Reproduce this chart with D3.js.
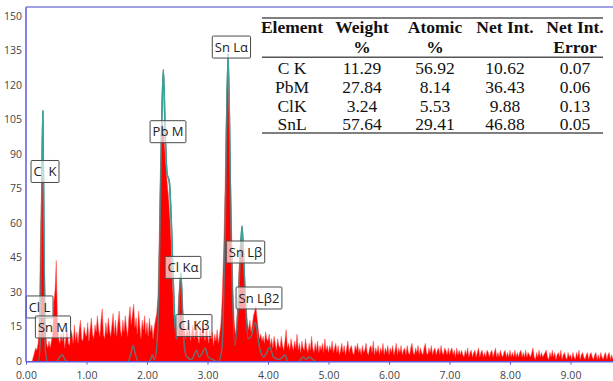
<!DOCTYPE html>
<html><head><meta charset="utf-8">
<script src="https://cdn.jsdelivr.net/npm/d3@7"></script>
<style>
html,body{margin:0;padding:0;background:#fff;}
svg{display:block;}
</style></head>
<body>
<svg id="chart" width="613" height="381"></svg>
<script>
// ---- data ----
const channelStart = 0, channelStep = 0.02; // keV
const counts = [
0,0,0,0,0,0,2,4,6,5,
8,20,55,78,80,45,15,8,6,9,
6,9,12,26,31,44,18,10,8,12,
9,13,6,11,15,8,7,14,12,8,
16,9,13,8,14,18,10,9,15,12,
11,17,9,14,19,12,10,16,13,20,
14,11,18,23,12,10,17,12,19,14,
11,16,21,12,18,11,17,22,14,11,
18,13,20,15,11,19,24,16,21,25,
15,19,12,22,16,10,18,14,20,12,
17,11,19,13,16,10,15,18,21,28,
50,82,100,104,98,90,82,76,70,62,
50,36,22,15,12,16,26,34,36,30,
20,14,10,15,11,17,9,13,16,10,
14,18,11,8,15,10,17,12,9,16,
12,8,14,10,13,7,12,9,14,8,
12,16,26,42,62,88,116,125,104,80,
55,32,18,12,15,25,40,50,54,50,
42,33,24,17,14,18,13,16,20,22,
24,19,14,10,12,9,11,8,13,10,
9,12,7,10,6,11,8,5,10,7,
6,11,7,5,9,14,6,8,5,10,
7,5,9,6,12,5,8,4,9,6,
5,10,6,4,8,5,11,6,4,8,
5,9,4,7,5,8,4,10,5,7,
4,7,5,9,4,6,8,4,7,3,
5,8,4,7,3,6,9,4,6,7,
4,3,7,5,8,4,6,3,7,4,
5,8,4,3,6,7,4,9,3,6,
4,7,3,6,4,8,3,6,4,7,
3,6,4,7,3,5,8,3,6,4,
7,3,5,6,3,7,4,3,6,8,
4,3,6,4,7,3,6,4,3,6,
8,4,3,6,4,7,3,5,6,3,
5,6,3,7,4,3,6,5,3,6,
3,5,6,3,5,2,6,3,5,3,
5,3,2,5,3,6,2,4,5,2,
4,5,2,4,6,2,4,5,2,4,
2,5,4,2,4,5,2,4,6,2,
4,2,5,3,2,4,5,2,4,2,
5,2,4,2,5,2,4,2,4,5,
2,4,2,5,2,4,3,2,4,6,
2,1,4,2,5,2,4,2,3,4,
5,2,1,4,2,5,2,4,1,3,
4,2,5,1,3,4,2,1,4,2,
3,1,4,2,1,4,2,5,1,3,
4,2,1,3,4,1,3,4,2,1,
3,4,1,3,1,4,2,1,3,4,
1,3,4,1,3,1,4,2,1,3
];
const fitEnergy = [0,0.2,0.235,0.255,0.277,0.30,0.32,0.36,0.50,0.56,0.60,0.64,0.70,1.68,1.73,1.77,1.81,1.86,2.04,2.09,2.12,2.16,2.20,2.24,2.27,2.30,2.33,2.37,2.40,2.44,2.48,2.51,2.535,2.56,2.585,2.62,2.66,2.74,2.78,2.82,2.86,2.90,2.96,3.01,3.08,3.18,3.24,3.29,3.34,3.39,3.45,3.51,3.57,3.62,3.67,3.72,3.79,3.86,3.93,3.98,4.03,4.09,4.18,4.24,4.28,4.33,4.50,4.58,4.63,4.68,4.74,4.80,9.8];
const fitCounts = [0,0,8,55,109,45,5,0,0,2,3,1,0,0,3,7,3,0,0,3,1,6,35,100,127,100,82,78,62,30,10,12,28,38.5,22,6,2,1,3,5,2,3,6,2,1,0,6,55,134,55,7,25,59,30,10,11,17,6,2,4,6.4,2,1,2,3,0,0,2,1,2,1,0,0];

const peakLabels = ["C  K","Pb M","Sn L\u03b1","Cl K\u03b1","Cl L","Sn M","Cl K\u03b2","Sn L\u03b2","Sn L\u03b22"];
const peakLabelEnergy = [0.314, 2.347, 3.395, 2.595, 0.223, 0.446, 2.777, 3.628, 3.851];
const peakLabelCount = [82.7, 100, 136.8, 41, 23.8, 15.1, 15.7, 47.7, 27.7];

const yTicks = [0,15,30,45,60,75,90,105,120,135,150];
const xTicks = [0,1,2,3,4,5,6,7,8,9];

const tableHeader1 = ["Element","Weight","Atomic","Net Int.","Net Int."];
const tableHeader2 = ["","%","%","","Error"];
const tableElements = ["C K","PbM","ClK","SnL"];
const tableWeight = ["11.29","27.84","3.24","57.64"];
const tableAtomic = ["56.92","8.14","5.53","29.41"];
const tableNetInt = ["10.62","36.43","9.88","46.88"];
const tableNetErr = ["0.07","0.06","0.13","0.05"];

// ---- layout ----
const svg = d3.select("#chart");
const L = 26, R = 613, T = 7, B = 361.7;
const x = d3.scaleLinear().domain([0,10]).range([L, 631]);
const y = d3.scaleLinear().domain([0,150]).range([B, 16.7]);
const axisColor = "#5b5be0";

const spec = counts.map((c,i)=>({e: channelStart + i*channelStep, c}));
const fit = fitEnergy.map((e,i)=>({e, c: fitCounts[i]}));

const defs = svg.append("defs");
defs.append("clipPath").attr("id","plotClip").append("rect")
  .attr("x",L).attr("y",T).attr("width",R-L).attr("height",B-T);

const area = d3.area().x(d=>x(d.e)).y0(y(0)).y1(d=>y(d.c)).curve(d3.curveLinear);
const line = d3.line().x(d=>x(d.e)).y(d=>y(d.c)).curve(d3.curveMonotoneX);

const mask = defs.append("mask").attr("id","outsideRed");
mask.append("rect").attr("x",0).attr("y",0).attr("width",613).attr("height",381).attr("fill","#fff");
mask.append("path").datum(spec).attr("d",area).attr("fill","#000");

const plot = svg.append("g").attr("clip-path","url(#plotClip)");
plot.append("path").datum(spec).attr("d",area).attr("fill","#ff0000")
  .attr("stroke","#ff5050").attr("stroke-width",0.5);
plot.append("path").datum(fit).attr("d",line).attr("fill","none")
  .attr("stroke","#6e6e6e").attr("stroke-width",1.5);
plot.append("path").datum(fit).attr("d",line).attr("fill","none")
  .attr("stroke","#35a59a").attr("stroke-width",1.5).attr("mask","url(#outsideRed)");

// peak labels
const lab = svg.append("g").attr("font-family","'Open Sans', sans-serif").attr("font-size",13).attr("fill","#222");
peakLabels.forEach((t,i)=>{
  const g = lab.append("g");
  const cx = x(peakLabelEnergy[i]), cy = y(peakLabelCount[i]);
  const tx = g.append("text").attr("x",cx).attr("y",cy)
    .attr("text-anchor","middle").attr("dy","0.36em").style("white-space","pre").text(t);
  const bb = tx.node().getBBox();
  g.insert("rect","text").attr("x",bb.x-2.5).attr("y",cy-11).attr("width",bb.width+5).attr("height",22)
    .attr("fill","#fff").attr("fill-opacity",0.65).attr("stroke","#4a4a4a").attr("stroke-width",1).attr("rx",1);
});

// axes
const yAxis = svg.append("g").attr("transform",`translate(${L},0)`)
  .call(d3.axisLeft(y).tickValues(yTicks).tickSize(0).tickPadding(4).tickFormat(d3.format("d")));
const xAxis = svg.append("g").attr("transform",`translate(0,${B})`)
  .call(d3.axisBottom(x).tickValues(xTicks).tickSize(3).tickPadding(6.5).tickFormat(d3.format(".2f")));
[yAxis,xAxis].forEach(a=>{
  a.select(".domain").remove();
  a.selectAll("text").attr("font-family","'Open Sans', sans-serif").attr("font-size",10.5).attr("fill","#444");
  a.selectAll("line").attr("stroke",axisColor);
});
yAxis.selectAll("text").attr("dy","0.25em");
svg.append("line").attr("x1",L).attr("x2",L).attr("y1",T).attr("y2",B).attr("stroke",axisColor).attr("stroke-width",1.5);
svg.append("line").attr("x1",L).attr("x2",R).attr("y1",T).attr("y2",T).attr("stroke","#8080dd").attr("stroke-width",1.5);
svg.append("line").attr("x1",L).attr("x2",R).attr("y1",B).attr("y2",B).attr("stroke",axisColor).attr("stroke-width",1.5);

// table
const tb = svg.append("g").attr("font-family","'Liberation Serif','Times New Roman',serif").attr("font-size",17.5).attr("fill","#111");
const colX = [292, 362, 435, 505, 575];
tb.append("rect").attr("x",262).attr("y",18).attr("width",341).attr("height",115).attr("fill","#fff");
[18,57.3,133].forEach(yy=>tb.append("line").attr("x1",262).attr("x2",603).attr("y1",yy).attr("y2",yy)
  .attr("stroke","#555").attr("stroke-width",1.5));
tableHeader1.forEach((t,i)=>tb.append("text").attr("x",colX[i]).attr("y",33).attr("text-anchor","middle").attr("font-weight","bold").text(t));
tableHeader2.forEach((t,i)=>tb.append("text").attr("x",colX[i]).attr("y",53).attr("text-anchor","middle").attr("font-weight","bold").text(t));
const cols = [tableElements, tableWeight, tableAtomic, tableNetInt, tableNetErr];
cols.forEach((col,ci)=>col.forEach((t,ri)=>tb.append("text").attr("x",colX[ci]).attr("y",74+ri*18.8)
  .attr("text-anchor","middle").text(t)));
</script>
</body></html>
